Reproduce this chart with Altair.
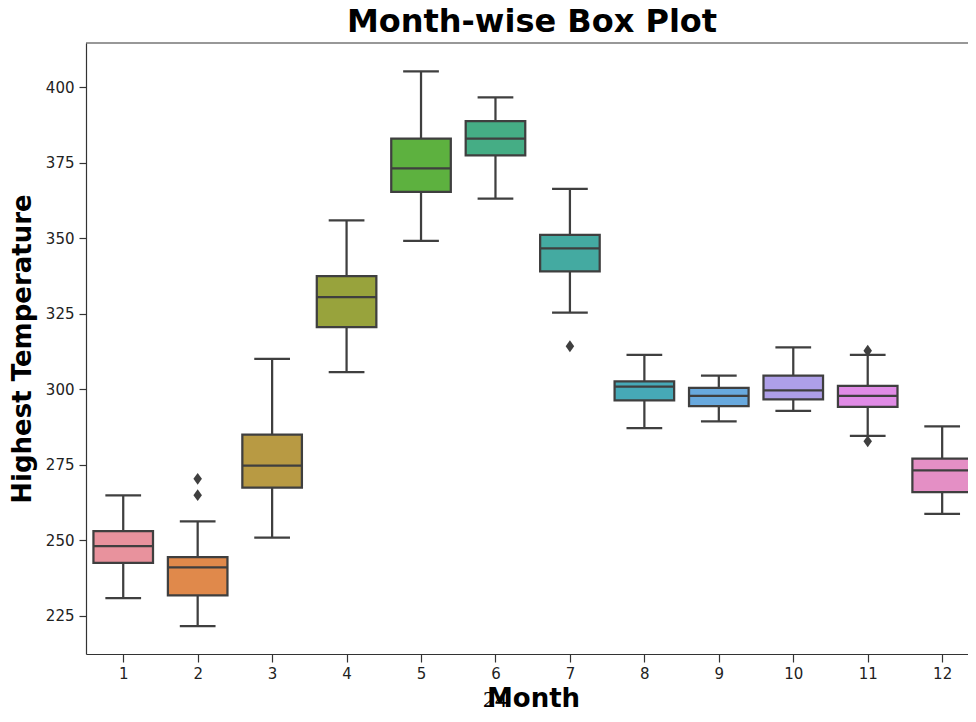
import altair as alt
import pandas as pd

months = list(range(1, 13))
whisker_low = [230.9, 221.6, 250.9, 305.7, 349.2, 363.2, 325.4, 287.2, 289.4, 292.9, 284.6, 258.8]
q1 = [242.6, 231.8, 267.5, 320.6, 365.4, 377.5, 339.1, 296.4, 294.5, 296.7, 294.2, 266.0]
median = [248.1, 241.1, 274.8, 330.6, 373.2, 383.0, 346.7, 300.9, 297.9, 299.7, 297.9, 273.2]
q3 = [253.1, 244.5, 285.0, 337.5, 383.0, 388.8, 351.2, 302.7, 300.5, 304.6, 301.2, 277.1]
whisker_high = [264.9, 256.3, 310.1, 356.0, 405.3, 396.7, 366.4, 311.4, 304.6, 313.9, 311.4, 287.8]

outlier_months = [2, 2, 7, 11, 11]
outlier_values = [265.0, 270.4, 314.3, 312.8, 282.8]

y_ticks = [225, 250, 275, 300, 325, 350, 375, 400]
page_note = ["24"]

colors = ["#e8929d", "#e0894b", "#b89a43", "#98a33c", "#5db13f", "#45ad85",
          "#44aaa1", "#46a9b7", "#68a9de", "#ae9fe8", "#e08be6", "#e48fc5"]
LINE = "#3f3f3f"
FRAME = "#333333"
LW = 2.25
W, H = 882, 611

df = pd.DataFrame({"month": months, "low": whisker_low, "q1": q1, "median": median,
                   "q3": q3, "high": whisker_high})
out_df = pd.DataFrame({"month": outlier_months, "value": outlier_values})

x_scale = alt.Scale(domain=[0.5, 12.347], nice=False, zero=False)
y_scale = alt.Scale(domain=[212.4, 414.7], nice=False, zero=False)
x_axis = alt.Axis(values=months, format="d", grid=False, tickSize=8, labelPadding=4,
                  titlePadding=4, titleX=447)
y_axis = alt.Axis(values=y_ticks, format="d", grid=False, tickSize=7, labelPadding=5,
                  titlePadding=10)
XT = "Month"
YT = "Highest Temperature"

base = alt.Chart(df).transform_calculate(
    bl="datum.month - 0.4", br="datum.month + 0.4",
    cl="datum.month - 0.24", cr="datum.month + 0.24")

whisker = base.mark_rule(color=LINE, strokeWidth=LW).encode(
    x=alt.X("month:Q", scale=x_scale, axis=x_axis, title=XT),
    y=alt.Y("low:Q", scale=y_scale, axis=y_axis, title=YT),
    y2="high:Q")

cap_low = base.mark_rule(color=LINE, strokeWidth=LW).encode(
    x=alt.X("cl:Q", scale=x_scale, title=XT), x2="cr:Q",
    y=alt.Y("low:Q", scale=y_scale, title=YT))
cap_high = base.mark_rule(color=LINE, strokeWidth=LW).encode(
    x=alt.X("cl:Q", scale=x_scale, title=XT), x2="cr:Q",
    y=alt.Y("high:Q", scale=y_scale, title=YT))

box = base.mark_rect(stroke=LINE, strokeWidth=LW).encode(
    x=alt.X("bl:Q", scale=x_scale, title=XT), x2="br:Q",
    y=alt.Y("q1:Q", scale=y_scale, title=YT), y2="q3:Q",
    color=alt.Color("month:N", scale=alt.Scale(domain=months, range=colors), legend=None))

med = base.mark_rule(color=LINE, strokeWidth=LW).encode(
    x=alt.X("bl:Q", scale=x_scale, title=XT), x2="br:Q",
    y=alt.Y("median:Q", scale=y_scale, title=YT))

fliers = alt.Chart(out_df).mark_point(
    shape="M0,-1L0.72,0L0,1L-0.72,0Z", filled=True, color=LINE, opacity=1, size=140).encode(
    x=alt.X("month:Q", scale=x_scale, title=XT),
    y=alt.Y("value:Q", scale=y_scale, title=YT))

# top frame line (the right side of the frame lies outside the picture)
top_frame = alt.Chart(pd.DataFrame({"k": [0]})).mark_rule(
    color=FRAME, strokeWidth=1.2).encode(x=alt.value(0), x2=alt.value(W + 20), y=alt.value(0))

note = alt.Chart(pd.DataFrame({"note": page_note})).mark_text(
    font="Liberation Serif", fontSize=24, baseline="alphabetic", align="center",
    color="black").encode(x=alt.value(409), y=alt.value(664), text="note:N")

chart = alt.layer(whisker, cap_low, cap_high, box, med, fliers, top_frame, note).properties(
    width=W, height=H,
    autosize=alt.AutoSizeParams(type="none"),
    padding={"left": 78, "top": 35, "right": 0, "bottom": 54},
    title=alt.TitleParams("Month-wise Box Plot", font="DejaVu Sans", fontSize=32,
                          fontWeight="bold", offset=3, color="black", anchor="middle",
                          dx=5),
).configure_view(stroke=None).configure_axis(
    labelFont="DejaVu Sans", labelFontSize=15, labelColor="#222222",
    titleFont="DejaVu Sans", titleFontSize=26, titleFontWeight="bold", titleColor="black",
    domainColor=FRAME, domainWidth=1.2, tickColor=FRAME, tickWidth=1.2,
)

chart.save("out.html", embed_options={"renderer": "svg", "actions": False})
